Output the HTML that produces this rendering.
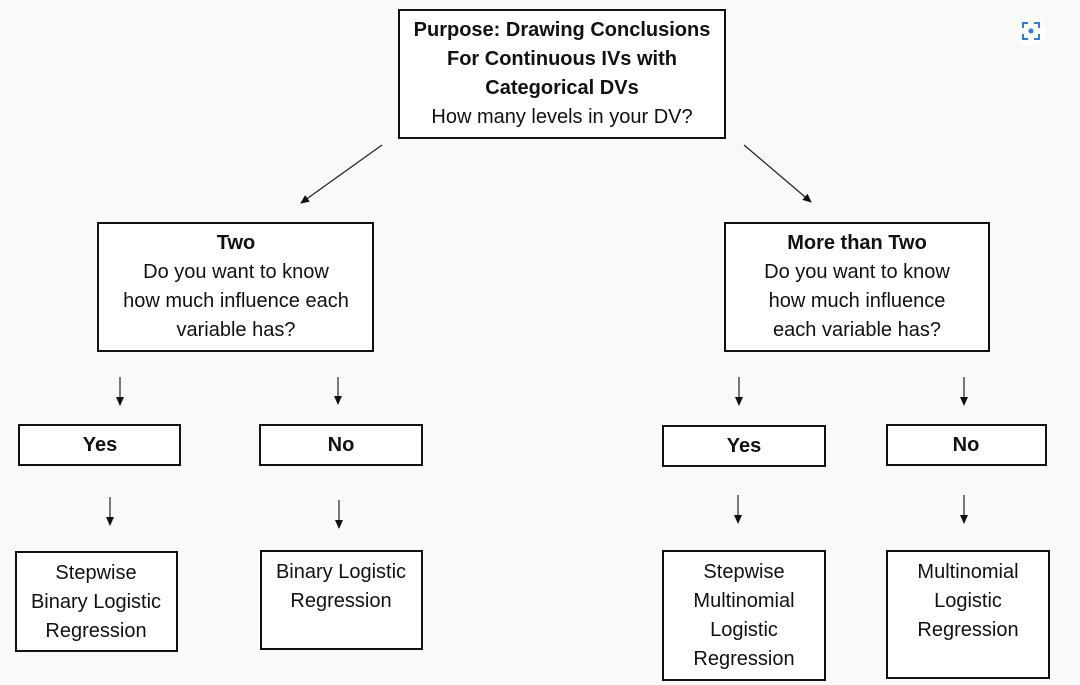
<!DOCTYPE html>
<html><head><meta charset="utf-8"><style>
html,body{margin:0;padding:0;background:#f9f9f9;}
svg{display:block;}
text{font-family:"Liberation Sans",sans-serif;font-size:20px;fill:#111;text-anchor:middle;dominant-baseline:central;}
.b{font-weight:bold;}
rect.n{fill:#fff;stroke:#111;stroke-width:2;}
line{stroke:#222;stroke-width:1.2;}
</style></head><body>
<svg width="1080" height="685" viewBox="0 0 1080 685" xmlns="http://www.w3.org/2000/svg">
<defs><marker id="a" markerWidth="10" markerHeight="10" refX="8" refY="5" orient="auto" markerUnits="userSpaceOnUse"><path d="M0,1 L9,5 L0,9 z" fill="#111"/></marker></defs>
<rect width="1080" height="685" fill="#f9f9f9"/>
<rect class="n" x="399" y="10" width="326" height="128"/>
<text class="b" x="562" y="30">Purpose: Drawing Conclusions</text>
<text class="b" x="562" y="59">For Continuous IVs with</text>
<text class="b" x="562" y="88">Categorical DVs</text>
<text x="562" y="117">How many levels in your DV?</text>

<line x1="382" y1="145" x2="301" y2="203" marker-end="url(#a)"/>
<line x1="744" y1="145" x2="811" y2="202" marker-end="url(#a)"/>

<rect class="n" x="98" y="223" width="275" height="128"/>
<text class="b" x="236" y="243">Two</text>
<text x="236" y="272">Do you want to know</text>
<text x="236" y="301">how much influence each</text>
<text x="236" y="330">variable has?</text>

<rect class="n" x="725" y="223" width="264" height="128"/>
<text class="b" x="857" y="243">More than Two</text>
<text x="857" y="272">Do you want to know</text>
<text x="857" y="301">how much influence</text>
<text x="857" y="330">each variable has?</text>

<line x1="120" y1="377" x2="120" y2="405" marker-end="url(#a)"/>
<line x1="338" y1="377" x2="338" y2="404" marker-end="url(#a)"/>
<line x1="739" y1="377" x2="739" y2="405" marker-end="url(#a)"/>
<line x1="964" y1="377" x2="964" y2="405" marker-end="url(#a)"/>

<rect class="n" x="19" y="425" width="161" height="40"/>
<text class="b" x="100" y="445">Yes</text>
<rect class="n" x="260" y="425" width="162" height="40"/>
<text class="b" x="341" y="445">No</text>
<rect class="n" x="663" y="426" width="162" height="40"/>
<text class="b" x="744" y="446">Yes</text>
<rect class="n" x="887" y="425" width="159" height="40"/>
<text class="b" x="966" y="445">No</text>

<line x1="110" y1="497" x2="110" y2="525" marker-end="url(#a)"/>
<line x1="339" y1="500" x2="339" y2="528" marker-end="url(#a)"/>
<line x1="738" y1="495" x2="738" y2="523" marker-end="url(#a)"/>
<line x1="964" y1="495" x2="964" y2="523" marker-end="url(#a)"/>

<rect class="n" x="16" y="552" width="161" height="99"/>
<text x="96" y="573">Stepwise</text>
<text x="96" y="602">Binary Logistic</text>
<text x="96" y="631">Regression</text>

<rect class="n" x="261" y="551" width="161" height="98"/>
<text x="341" y="572">Binary Logistic</text>
<text x="341" y="601">Regression</text>

<rect class="n" x="663" y="551" width="162" height="129"/>
<text x="744" y="572">Stepwise</text>
<text x="744" y="601">Multinomial</text>
<text x="744" y="630">Logistic</text>
<text x="744" y="659">Regression</text>

<rect class="n" x="887" y="551" width="162" height="127"/>
<text x="968" y="572">Multinomial</text>
<text x="968" y="601">Logistic</text>
<text x="968" y="630">Regression</text>

<circle cx="1031" cy="31" r="15" fill="#fff"/>
<g fill="none" stroke="#2b7de0" stroke-width="2">
<path d="M1023,28 v-5 h5 M1034,23 h5 v5 M1039,34 v5 h-5 M1028,39 h-5 v-5"/>
</g>
<circle cx="1031" cy="31" r="2.5" fill="#2b7de0"/>
</svg>
</body></html>
